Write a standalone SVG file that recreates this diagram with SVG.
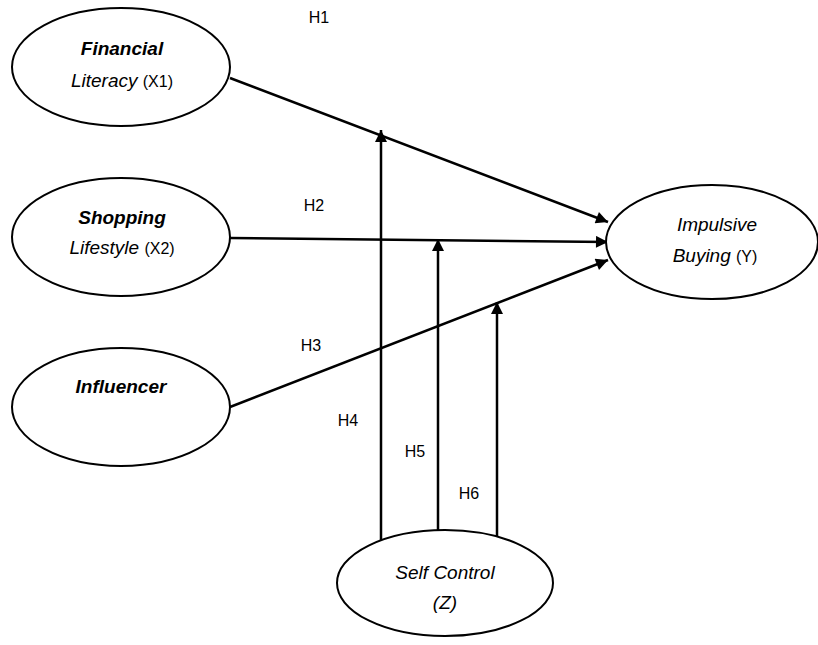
<svg xmlns="http://www.w3.org/2000/svg" width="818" height="645" viewBox="0 0 818 645">
<style>
.node ellipse{fill:#fff;stroke:#000;stroke-width:2}
.t{font-family:"Liberation Sans",Arial,sans-serif;font-size:19px;text-anchor:middle;fill:#000}
.bi{font-weight:bold;font-style:italic}
.i{font-style:italic}
.n{font-style:normal;font-size:16px}
.lbl{font-family:"Liberation Sans",Arial,sans-serif;font-size:16px;fill:#000;text-anchor:middle}
.c line{stroke:#000;stroke-width:2.5;fill:none}
</style>
<defs>
<marker id="ah" viewBox="0 0 10 10" refX="10" refY="5" markerWidth="5.6" markerHeight="4.8" orient="auto" markerUnits="strokeWidth">
<path d="M0,0 L10,5 L0,10 z" fill="#000"/>
</marker>
</defs>
<g class="c" id="connectors">
<line x1="230" y1="78" x2="608" y2="222" marker-end="url(#ah)"/>
<line x1="230" y1="238" x2="608" y2="242" marker-end="url(#ah)"/>
<line x1="230" y1="407" x2="608" y2="260" marker-end="url(#ah)"/>
<line x1="381" y1="541" x2="381" y2="130" marker-end="url(#ah)"/>
<line x1="438" y1="531" x2="438" y2="239" marker-end="url(#ah)"/>
<line x1="497" y1="537" x2="497" y2="302" marker-end="url(#ah)"/>
</g>
<g class="lbl" id="labels">
<text x="319" y="23">H1</text>
<text x="314" y="211">H2</text>
<text x="311" y="351">H3</text>
<text x="348" y="426">H4</text>
<text x="415" y="457">H5</text>
<text x="469" y="499">H6</text>
</g>
<g class="node" id="n-financial">
<ellipse cx="121" cy="67" rx="109" ry="59"/>
<text class="t bi" x="122" y="55">Financial</text>
<text class="t" x="122" y="87"><tspan class="i">Literacy</tspan> <tspan class="n">(X1)</tspan></text>
</g>
<g class="node" id="n-shopping">
<ellipse cx="121" cy="237" rx="109" ry="59"/>
<text class="t bi" x="122" y="224">Shopping</text>
<text class="t" x="122" y="254"><tspan class="i">Lifestyle</tspan> <tspan class="n">(X2)</tspan></text>
</g>
<g class="node" id="n-influencer">
<ellipse cx="121" cy="407" rx="109" ry="59"/>
<text class="t bi" x="121" y="393">Influencer</text>
</g>
<g class="node" id="n-impulsive">
<ellipse cx="712" cy="242" rx="106" ry="57"/>
<text class="t i" x="717" y="231">Impulsive</text>
<text class="t" x="715" y="262"><tspan class="i">Buying</tspan> <tspan class="n">(Y)</tspan></text>
</g>
<g class="node" id="n-selfcontrol">
<ellipse cx="445" cy="583" rx="108" ry="53"/>
<text class="t i" x="445" y="579">Self Control</text>
<text class="t i" x="445" y="609">(Z)</text>
</g>
</svg>
